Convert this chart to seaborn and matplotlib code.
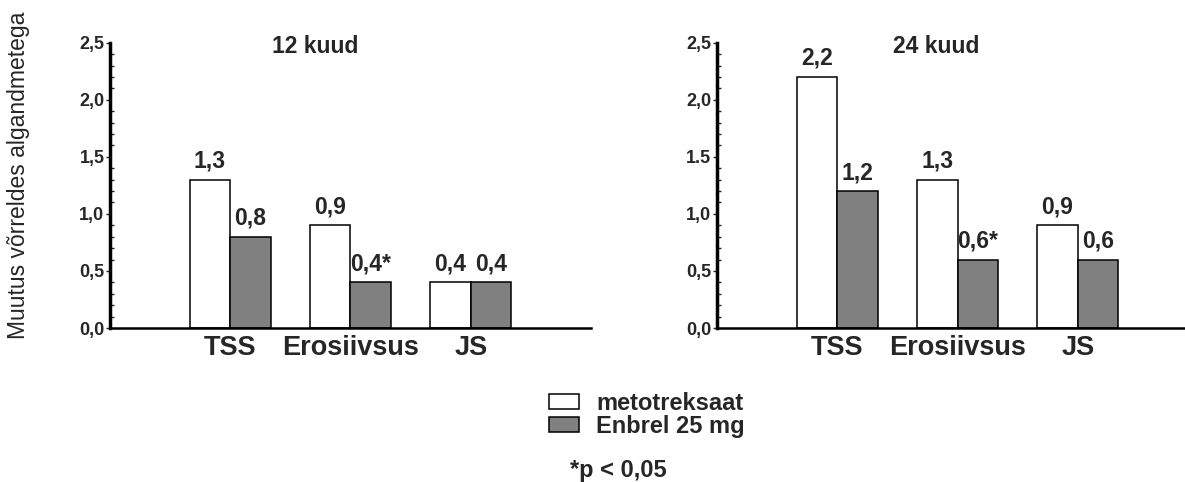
import matplotlib
matplotlib.use("Agg")
import matplotlib.pyplot as plt
from matplotlib.ticker import MultipleLocator
import pandas as pd
import seaborn as sns

# andmed
naitajad = ["TSS", "Erosiivsus", "JS"]
ravi = ["metotreksaat", "Enbrel 25 mg"]
mtx_12 = [1.3, 0.9, 0.4]
enb_12 = [0.8, 0.4, 0.4]
mtx_24 = [2.2, 1.3, 0.9]
enb_24 = [1.2, 0.6, 0.6]
sildid_mtx_12 = ["1,3", "0,9", "0,4"]
sildid_enb_12 = ["0,8", "0,4*", "0,4"]
sildid_mtx_24 = ["2,2", "1,3", "0,9"]
sildid_enb_24 = ["1,2", "0,6*", "0,6"]
y_ticks = [0.0, 0.5, 1.0, 1.5, 2.0, 2.5]
y_sildid_12 = ["0,0", "0,5", "1,0", "1,5", "2,0", "2,5"]
y_sildid_24 = ["0,0", "0,5", "1,0", "1.5", "2,0", "2,5"]
pealkirjad = ["12 kuud", "24 kuud"]

sns.set_theme(style="white")
plt.rcParams["font.family"] = ["Liberation Sans", "DejaVu Sans"]

FONT = "Liberation Sans"
DPI = 100


def long_df(mtx, enb):
    return pd.DataFrame({
        "naitaja": naitajad * 2,
        "ravi": [ravi[0]] * 3 + [ravi[1]] * 3,
        "muutus": mtx + enb,
    })


fig = plt.figure(figsize=(11.85, 4.82), dpi=DPI)
ax1 = fig.add_axes([0.0928, 0.3195, 0.4059, 0.5919])
ax2 = fig.add_axes([0.6051, 0.3195, 0.4059, 0.5919])

paneelid = [
    (ax1, mtx_12, enb_12, sildid_mtx_12, sildid_enb_12, y_sildid_12, pealkirjad[0], 0.426),
    (ax2, mtx_24, enb_24, sildid_mtx_24, sildid_enb_24, y_sildid_24, pealkirjad[1], 0.455),
]

for ax, mtx, enb, s_mtx, s_enb, ysl, title, tx in paneelid:
    df = long_df(mtx, enb)
    sns.barplot(data=df, x="naitaja", y="muutus", hue="ravi",
                palette=["white", "#808080"], edgecolor="black",
                linewidth=1.1, width=0.675, saturation=1, ax=ax)
    ax.bar_label(ax.containers[0], labels=s_mtx, padding=5,
                 fontsize=16.5, fontweight="bold")
    ax.bar_label(ax.containers[1], labels=s_enb, padding=5,
                 fontsize=16.5, fontweight="bold")
    ax.get_legend().remove()

    ax.set_xlim(-1, 3)
    ax.set_ylim(0, 2.5)
    ax.set_yticks(y_ticks)
    ax.set_yticklabels(ysl, fontsize=13, fontweight="bold")
    ax.yaxis.set_minor_locator(MultipleLocator(0.1))
    ax.tick_params(axis="y", which="major", direction="out", length=3,
                   width=1, left=True, pad=1)
    ax.tick_params(axis="y", which="minor", direction="in", length=3,
                   width=1, left=True)
    ax.tick_params(axis="x", length=0, labelsize=19.5, pad=5)
    for lbl in ax.get_xticklabels():
        lbl.set_fontweight("bold")
    ax.set_xlabel("")
    ax.set_ylabel("")
    sns.despine(ax=ax)
    ax.spines["left"].set_linewidth(2.5)
    ax.spines["bottom"].set_linewidth(1.8)
    ax.spines["left"].set_color("black")
    ax.spines["bottom"].set_color("black")
    ax.text(tx, 0.985, title, transform=ax.transAxes, ha="center",
            va="center", fontsize=16.5, fontweight="bold")

fig.text(0.0152, 0.637, "Muutus võrreldes algandmetega", rotation=90,
         ha="center", va="center", fontsize=16.5)

handles, labels = ax1.get_legend_handles_labels()
fig.legend(handles, ravi, loc="upper left",
           bbox_to_anchor=(549 / 1185, 1 - 392 / 482),
           frameon=False, borderpad=0, borderaxespad=0,
           handlelength=1.27, handleheight=0.6, handletextpad=0.72,
           labelspacing=0.0, prop={"family": FONT, "weight": "bold", "size": 17})

fig.text(618 / 1185, 1 - 471 / 482, "*p < 0,05", ha="center", va="center",
         fontsize=17, fontweight="bold")

fig.savefig("out.png", dpi=DPI)
plt.close(fig)
